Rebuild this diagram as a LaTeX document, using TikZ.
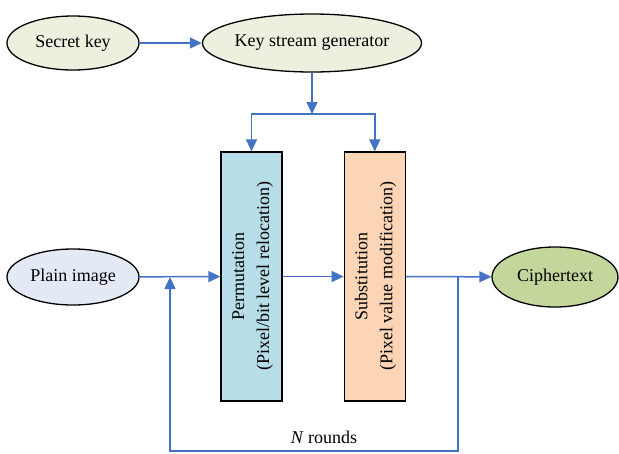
\documentclass[tikz,border=0pt]{standalone}
\usepackage{fontspec}
\setmainfont{Liberation Serif}
\usepackage{graphicx}
\usetikzlibrary{arrows.meta,positioning,shapes.geometric}
\definecolor{keygreen}{HTML}{EBF1DE}
\definecolor{plainblue}{HTML}{E4EAF5}
\definecolor{permblue}{HTML}{B7DEE8}
\definecolor{subpeach}{HTML}{FBD5B5}
\definecolor{ciphergreen}{HTML}{C3D69B}
\definecolor{flowblue}{HTML}{4472C4}
\tikzset{
	%Define standard arrow tip
	>={Triangle[length=12pt,width=11pt]},
	%Define style for ovals
	oval/.style={
		ellipse,
		draw=black, line width=1.3pt,
		inner sep=0pt,
		minimum width=132pt,
		minimum height=54pt,
		font=\fontsize{18}{22}\selectfont},
	%Define style for the two stages
	stage/.style={
		rectangle,
		draw=black, line width=1.3pt,
		inner sep=0pt,
		minimum width=61pt,
		minimum height=249pt,
		font=\fontsize{18}{25}\selectfont},
	roundlabel/.style={font=\fontsize{18}{22}\selectfont},
	% Define arrow style
	flow/.style={
		->,
		draw=flowblue,
		line width=1.5pt}
}
\begin{document}
\begin{tikzpicture}[x=1pt,y=-1pt]
		\useasboundingbox (0,0) rectangle (619,453);
		% node Secret key
		\node[oval, fill=keygreen] (seckey) at (73,43) {Secret key};
		% node Key stream generator
		\node[oval, fill=keygreen, minimum width=181pt, minimum height=58pt] (ksg) at (312,43) {Key stream generator};
		% node Permutation
		\node[stage, fill=permblue] (perm) at (251.5,276.5) {\rotatebox{90}{\begin{tabular}{@{}c@{}}Permutation\\(Pixel/bit level relocation)\end{tabular}}};
		% node Substitution
		\node[stage, fill=subpeach, right=61pt of perm] (subst) {\rotatebox{90}{\begin{tabular}{@{}c@{}}Substitution\\(Pixel value modification)\end{tabular}}};
		% node Plain image
		\node[oval, fill=plainblue, minimum height=56pt] (plain) at (73,277) {Plain image};
		% node Ciphertext
		\node[oval, fill=ciphergreen, minimum width=126pt, minimum height=60pt] (cipher) at (555,277) {Ciphertext};
		% node N rounds
		\node[roundlabel] (rounds) at (324,437) {\textit{N} rounds};
		% helper points
		\coordinate (split) at (312,114);
		\coordinate (loopR) at (458,277);
		\coordinate (loopB) at (458,451);
		\coordinate (loopL) at (170,277);
		\draw[flow]   (seckey) -- (ksg);
		\draw[flow]   (ksg) -- (split);
		\draw[flow]   (split) -| (perm.north);
		\draw[flow]   (split) -| (subst.north);
		\draw[flow]   (plain) -- (perm);
		\draw[flow]   (perm) -- (subst);
		\draw[flow]   (subst) -- (cipher);
		\draw[flow]   (loopR) -- (loopB) -| (loopL);
	\end{tikzpicture}
\end{document}
